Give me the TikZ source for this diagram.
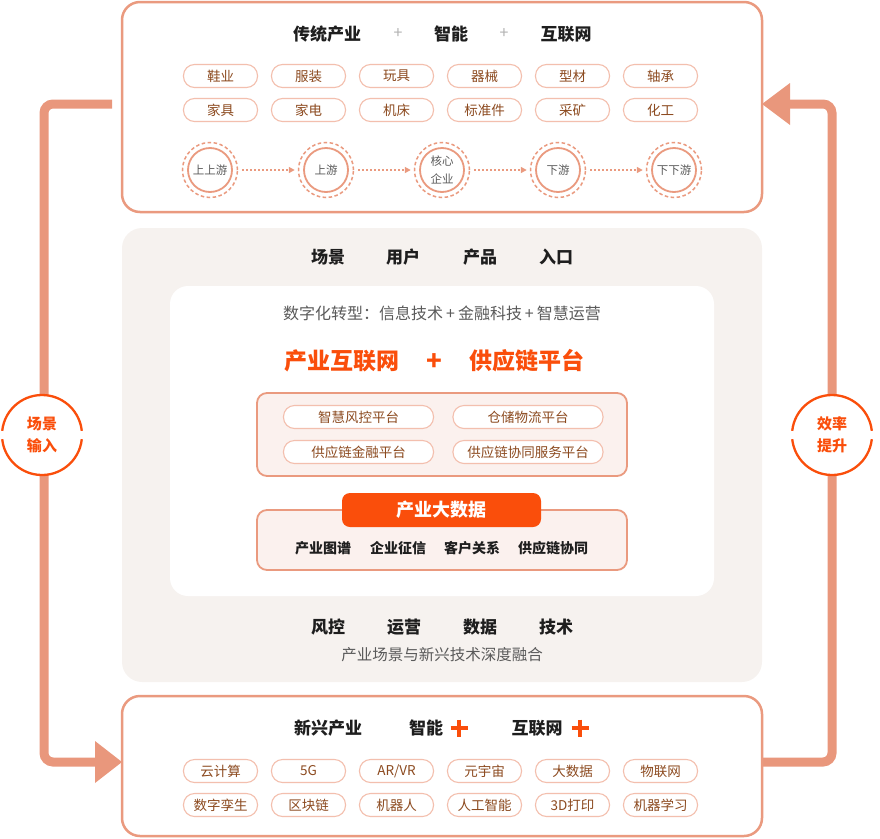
\documentclass[tikz,border=0pt]{standalone}
\usepackage{fontspec}
\setmainfont{Noto Sans CJK SC}
\usetikzlibrary{arrows.meta}
\definecolor{salmon}{HTML}{EA9A7F}
\definecolor{pillline}{HTML}{F3BFAE}
\definecolor{pilltext}{HTML}{8C4A1F}
\definecolor{accent}{HTML}{FA4E0B}
\definecolor{panel}{HTML}{F6F2EF}
\definecolor{pinkfill}{HTML}{FBF1EE}
\definecolor{graytext}{HTML}{5A5A5A}
\definecolor{darktext}{HTML}{1E1E1E}
\definecolor{flowc}{HTML}{E9977C}
\newcommand{\fs}[1]{\fontsize{#1}{#1}\selectfont}
\begin{document}
\begin{tikzpicture}[x=1pt,y=-1pt,
  bigbox/.style={draw=salmon, line width=2.5pt, rounded corners=18pt, fill=white, inner sep=0pt},
  hdr/.style={font=\fs{17}\bfseries, text=darktext, inner sep=0pt},
  lightplus/.style={font=\fs{16}, text=black!30, inner sep=0pt},
  tag/.style={draw=pillline, line width=1.1pt, rounded corners=11pt, fill=white, minimum width=74pt, minimum height=23pt, inner sep=0pt, text=pilltext, font=\fs{13.5}},
  ptag/.style={tag, minimum width=150pt},
  chain/.style={circle, draw=salmon, line width=1.8pt, fill=white, minimum size=44pt, inner sep=0pt, text=graytext, font=\fs{11.5}, align=center},
  chainout/.style={circle, draw=salmon, line width=1.5pt, dash pattern=on 3.5pt off 2.5pt, minimum size=55pt, inner sep=0pt},
  dotarrow/.style={draw=salmon, line width=1.3pt, dash pattern=on 1.5pt off 2.5pt, -{Triangle[length=6pt,width=6pt]}, shorten <=4pt, shorten >=3pt},
  flowline/.style={draw=flowc, line width=9pt, rounded corners=9pt},
  sidecirc/.style={circle, fill=white, minimum size=80pt, inner sep=0pt, text=accent, font=\fs{15}\bfseries, align=center},
  sidearc/.style={draw=accent, line width=2.3pt},
  item/.style={font=\fs{14}\bfseries, text=darktext, inner sep=0pt},
]
\useasboundingbox (0,0) rectangle (880,838);

% ---------- flow arrows (behind) ----------
\coordinate (lA) at (112,104);
\coordinate (lC1) at (44,104);
\coordinate (lC2) at (44,762);
\coordinate (lB) at (96,762);
\coordinate (rA) at (762,762);
\coordinate (rC1) at (832,762);
\coordinate (rC2) at (832,104);
\coordinate (rB) at (789,104);
\draw[flowline] (lA) -- (lC1) -- (lC2) -- (lB);
\draw[flowline] (rA) -- (rC1) -- (rC2) -- (rB);
\coordinate (lT) at (122,762);
\coordinate (rT) at (762,104);
\fill[flowc] (lT) -- (95,741) -- (95,783) -- cycle;
\fill[flowc] (rT) -- (790,83) -- (790,125) -- cycle;

% ---------- side circles ----------
\node[sidecirc] (sin) at (42,435) {场景\\[7pt]输入};
\draw[sidearc] ([shift={(6:40)}]sin.center) arc[start angle=6, end angle=174, radius=40];
\draw[sidearc] ([shift={(186:40)}]sin.center) arc[start angle=186, end angle=354, radius=40];
\node[sidecirc] (sout) at (832,435) {效率\\[7pt]提升};
\draw[sidearc] ([shift={(6:40)}]sout.center) arc[start angle=6, end angle=174, radius=40];
\draw[sidearc] ([shift={(186:40)}]sout.center) arc[start angle=186, end angle=354, radius=40];

% ---------- top box ----------
\node[bigbox, minimum width=640pt, minimum height=210pt] (topbox) at (442,107) {};
\node[hdr] (h1) at (327,34) {传统产业};
\node[lightplus] (hp1) at (398,34) {+};
\node[hdr] (h2) at (451,34) {智能};
\node[lightplus] (hp2) at (504,34) {+};
\node[hdr] (h3) at (566,34) {互联网};

\node[tag] (t1) at (220.5,76) {鞋业};
\node[tag] (t2) at (308.5,76) {服装};
\node[tag] (t3) at (396.5,76) {玩具};
\node[tag] (t4) at (484.5,76) {器械};
\node[tag] (t5) at (572.5,76) {型材};
\node[tag] (t6) at (660.5,76) {轴承};
\node[tag] (t7) at (220.5,110) {家具};
\node[tag] (t8) at (308.5,110) {家电};
\node[tag] (t9) at (396.5,110) {机床};
\node[tag] (t10) at (484.5,110) {标准件};
\node[tag] (t11) at (572.5,110) {采矿};
\node[tag] (t12) at (660.5,110) {化工};

\node[chainout] (o1) at (210,170) {};
\node[chainout] (o2) at (326,170) {};
\node[chainout] (o3) at (442,170) {};
\node[chainout] (o4) at (558,170) {};
\node[chainout] (o5) at (674,170) {};
\node[chain] (c1) at (210,170) {上上游};
\node[chain] (c2) at (326,170) {上游};
\node[chain] (c3) at (442,170) {核心\\[6pt]企业};
\node[chain] (c4) at (558,170) {下游};
\node[chain] (c5) at (674,170) {下下游};
\draw[dotarrow] (o1.east) -- (o2.west);
\draw[dotarrow] (o2.east) -- (o3.west);
\draw[dotarrow] (o3.east) -- (o4.west);
\draw[dotarrow] (o4.east) -- (o5.west);

% ---------- middle panel ----------
\node[fill=panel, rounded corners=20pt, minimum width=640pt, minimum height=454pt, inner sep=0pt] (midpanel) at (442,455) {};
\node[hdr] (m1) at (328,257) {场景};
\node[hdr] (m2) at (403,257) {用户};
\node[hdr] (m3) at (480,257) {产品};
\node[hdr] (m4) at (556,257) {入口};

\node[fill=white, rounded corners=18pt, minimum width=544pt, minimum height=310pt, inner sep=0pt] (inner) at (442,441) {};
\node[font=\fs{16}, text=graytext, inner sep=0pt] (digi) at (442,313) {数字化转型：信息技术\kern3pt+\kern3pt金融科技\kern3pt+\kern3pt智慧运营};
\node[font=\fs{23}\bfseries, text=accent, inner sep=0pt] (ti1) at (342,361) {产业互联网};
\node[font=\fs{26}\bfseries, text=accent, inner sep=0pt] (tip) at (434,362) {+};
\node[font=\fs{23}\bfseries, text=accent, inner sep=0pt] (ti2) at (527,361) {供应链平台};

\node[draw=salmon, line width=1.8pt, fill=pinkfill, rounded corners=10pt, minimum width=370pt, minimum height=83pt, inner sep=0pt] (platbox) at (442,434.5) {};
\node[ptag] (p1) at (358.5,417) {智慧风控平台};
\node[ptag] (p2) at (528,417) {仓储物流平台};
\node[ptag] (p3) at (358.5,452) {供应链金融平台};
\node[ptag] (p4) at (528,452) {供应链协同服务平台};

\node[draw=salmon, line width=1.8pt, fill=pinkfill, rounded corners=10pt, minimum width=370pt, minimum height=60pt, inner sep=0pt] (databox) at (442,540) {};
\node[fill=accent, rounded corners=8pt, minimum width=199pt, minimum height=34pt, inner sep=0pt, text=white, font=\fs{18}\bfseries] (datatab) at (441.5,510) {产业大数据};
\node[item] (d1) at (323,548) {产业图谱};
\node[item] (d2) at (398,548) {企业征信};
\node[item] (d3) at (472,548) {客户关系};
\node[item] (d4) at (553,548) {供应链协同};

\node[hdr] (n1) at (328,627) {风控};
\node[hdr] (n2) at (404,627) {运营};
\node[hdr] (n3) at (480,627) {数据};
\node[hdr] (n4) at (556,627) {技术};
\node[font=\fs{15.5}, text=graytext, inner sep=0pt] (fuse) at (442,655) {产业场景与新兴技术深度融合};

% ---------- bottom box ----------
\node[bigbox, minimum width=640pt, minimum height=140pt] (botbox) at (442,766) {};
\node[hdr] (g1) at (328,728) {新兴产业};
\node[hdr] (g2) at (426,728) {智能};
\draw[accent, line width=3.8pt] (459,719.5) -- (459,736.5) (450.5,728) -- (467.5,728);
\node[hdr] (g3) at (537,728) {互联网};
\draw[accent, line width=3.8pt] (580,719.5) -- (580,736.5) (571.5,728) -- (588.5,728);

\node[tag] (b1) at (220.5,771) {云计算};
\node[tag] (b2) at (308.5,771) {5G};
\node[tag] (b3) at (396.5,771) {AR/VR};
\node[tag] (b4) at (484.5,771) {元宇宙};
\node[tag] (b5) at (572.5,771) {大数据};
\node[tag] (b6) at (660.5,771) {物联网};
\node[tag] (b7) at (220.5,805) {数字孪生};
\node[tag] (b8) at (308.5,805) {区块链};
\node[tag] (b9) at (396.5,805) {机器人};
\node[tag] (b10) at (484.5,805) {人工智能};
\node[tag] (b11) at (572.5,805) {3D打印};
\node[tag] (b12) at (660.5,805) {机器学习};
\end{tikzpicture}
\end{document}
